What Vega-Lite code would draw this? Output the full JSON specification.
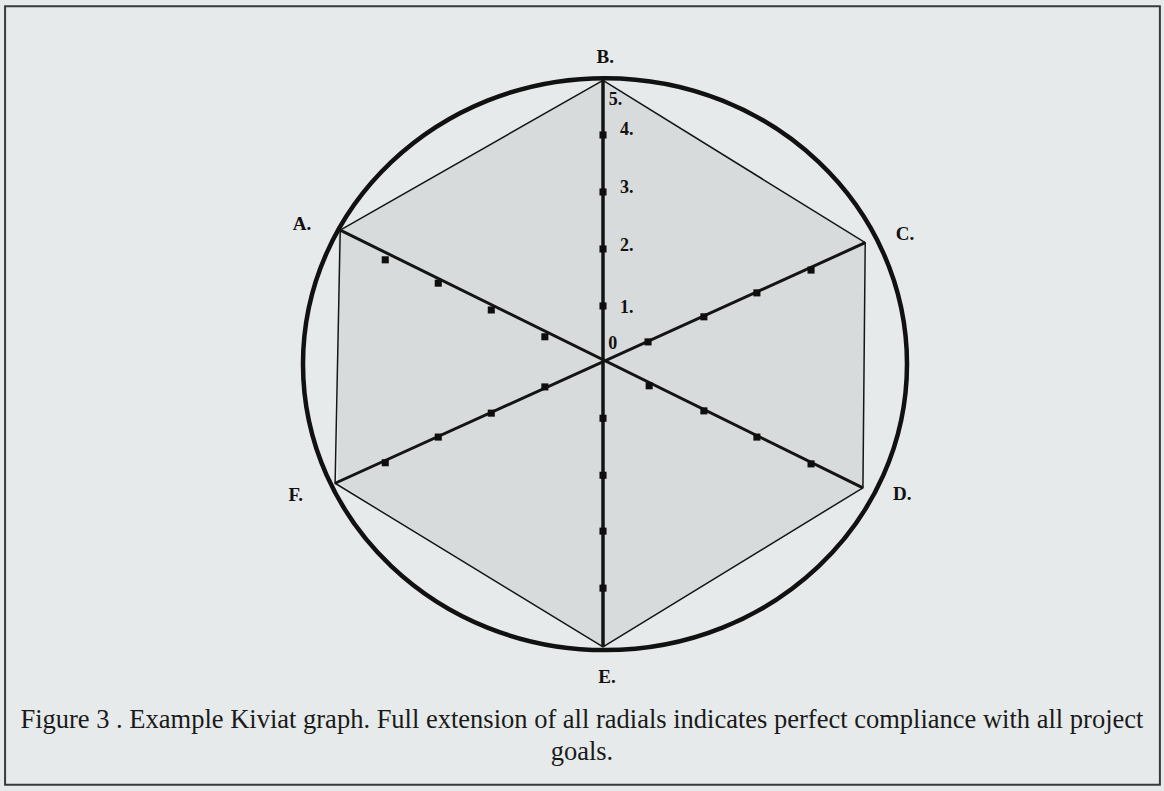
{
  "$schema": "https://vega.github.io/schema/vega-lite/v6.json",
  "width": 1164,
  "height": 791,
  "autosize": {"type": "none"},
  "padding": 0,
  "background": "#e7eaea",
  "config": {"view": {"stroke": null}},
  "datasets": {
    "frame": [{"x": -10.49, "x2": 9.77, "y": 6.26, "y2": -7.4}],
    "hexFill": [
      {"x": -4.65, "top": 2.33, "bottom": -2.11},
      {"x": 0, "top": 4.96, "bottom": -4.98},
      {"x": 4.58, "top": 2.11, "bottom": -2.19}
    ],
    "hexEdge": [
      {"axis": "A", "i": 0, "x": -4.61, "y": 2.33},
      {"axis": "B", "i": 1, "x": 0, "y": 4.96},
      {"axis": "C", "i": 2, "x": 4.6, "y": 2.11},
      {"axis": "D", "i": 3, "x": 4.56, "y": -2.19},
      {"axis": "E", "i": 4, "x": 0, "y": -4.98},
      {"axis": "F", "i": 5, "x": -4.7, "y": -2.11},
      {"axis": "A", "i": 6, "x": -4.61, "y": 2.33}
    ],
    "spokeVertical": [{"x": 0, "y": 4.96, "x2": 0, "y2": -4.98}],
    "spokeSlant": [
      {"name": "A-D", "x": -4.61, "y": 2.33, "x2": 4.56, "y2": -2.19},
      {"name": "C-F", "x": 4.6, "y": 2.11, "x2": -4.7, "y2": -2.11}
    ],
    "ticks": [
      {"axis": "B", "v": 1, "x": 0, "y": 1.0},
      {"axis": "B", "v": 2, "x": 0, "y": 2.0},
      {"axis": "B", "v": 3, "x": 0, "y": 3.0},
      {"axis": "B", "v": 4, "x": 0, "y": 4.0},
      {"axis": "E", "v": 1, "x": 0, "y": -0.97},
      {"axis": "E", "v": 2, "x": 0, "y": -1.97},
      {"axis": "E", "v": 3, "x": 0, "y": -2.95},
      {"axis": "E", "v": 4, "x": 0, "y": -3.95},
      {"axis": "A", "v": 1, "x": -1.02, "y": 0.46},
      {"axis": "A", "v": 2, "x": -1.96, "y": 0.93},
      {"axis": "A", "v": 3, "x": -2.89, "y": 1.4},
      {"axis": "A", "v": 4, "x": -3.82, "y": 1.81},
      {"axis": "D", "v": 1, "x": 0.81, "y": -0.4},
      {"axis": "D", "v": 2, "x": 1.77, "y": -0.84},
      {"axis": "D", "v": 3, "x": 2.7, "y": -1.3},
      {"axis": "D", "v": 4, "x": 3.65, "y": -1.77},
      {"axis": "C", "v": 1, "x": 0.79, "y": 0.37},
      {"axis": "C", "v": 2, "x": 1.77, "y": 0.81},
      {"axis": "C", "v": 3, "x": 2.7, "y": 1.23},
      {"axis": "C", "v": 4, "x": 3.65, "y": 1.63},
      {"axis": "F", "v": 1, "x": -1.02, "y": -0.42},
      {"axis": "F", "v": 2, "x": -1.96, "y": -0.88},
      {"axis": "F", "v": 3, "x": -2.89, "y": -1.3},
      {"axis": "F", "v": 4, "x": -3.82, "y": -1.75}
    ],
    "letters": [
      {"label": "A.", "x": -5.28, "y": 2.44},
      {"label": "B.", "x": 0.04, "y": 5.37},
      {"label": "C.", "x": 5.3, "y": 2.26},
      {"label": "D.", "x": 5.25, "y": -2.3},
      {"label": "E.", "x": 0.07, "y": -5.51},
      {"label": "F.", "x": -5.39, "y": -2.32}
    ],
    "numbers": [
      {"label": "5.", "x": 0.1, "y": 4.61},
      {"label": "4.", "x": 0.3, "y": 4.09},
      {"label": "3.", "x": 0.3, "y": 3.07},
      {"label": "2.", "x": 0.3, "y": 2.05},
      {"label": "1.", "x": 0.3, "y": 0.96},
      {"label": "0", "x": 0.09, "y": 0.33}
    ],
    "caption": [
      {"line": "Figure 3 .  Example Kiviat graph. Full extension of all radials indicates perfect compliance with all project", "x": -0.37, "y": -6.26},
      {"line": "goals.", "x": -0.37, "y": -6.82}
    ]
  },
  "layer": [
    {
      "data": {"name": "frame"},
      "mark": {"type": "rect", "fill": null, "stroke": "#3a3a3a", "strokeWidth": 2},
      "encoding": {
        "x": {"field": "x", "type": "quantitative", "scale": {"domain": [-10.579, 9.842], "nice": false, "zero": false}, "axis": null},
        "x2": {"field": "x2"},
        "y": {"field": "y", "type": "quantitative", "scale": {"domain": [-7.509, 6.368], "nice": false, "zero": false}, "axis": null},
        "y2": {"field": "y2"}
      }
    },
    {
      "data": {"name": "hexFill"},
      "mark": {"type": "area", "color": "#d8dbdb", "interpolate": "linear"},
      "encoding": {
        "x": {"field": "x", "type": "quantitative"},
        "y": {"field": "top", "type": "quantitative"},
        "y2": {"field": "bottom"}
      }
    },
    {
      "data": {"name": "hexEdge"},
      "mark": {"type": "line", "color": "#161616", "strokeWidth": 1.5},
      "encoding": {
        "x": {"field": "x", "type": "quantitative"},
        "y": {"field": "y", "type": "quantitative"},
        "order": {"field": "i", "type": "quantitative"}
      }
    },
    {
      "data": {"name": "spokeSlant"},
      "mark": {"type": "rule", "color": "#141414", "strokeWidth": 3},
      "encoding": {
        "x": {"field": "x", "type": "quantitative"},
        "y": {"field": "y", "type": "quantitative"},
        "x2": {"field": "x2"},
        "y2": {"field": "y2"}
      }
    },
    {
      "data": {"name": "spokeVertical"},
      "mark": {"type": "rule", "color": "#141414", "strokeWidth": 3.5},
      "encoding": {
        "x": {"field": "x", "type": "quantitative"},
        "y": {"field": "y", "type": "quantitative"},
        "x2": {"field": "x2"},
        "y2": {"field": "y2"}
      }
    },
    {
      "data": {"values": [{"ring": "outer"}]},
      "mark": {
        "type": "point",
        "shape": "M-1,0A1,0.947 0 1,1 1,0A1,0.947 0 1,1 -1,0Z",
        "size": 364816,
        "filled": false,
        "stroke": "#111111",
        "strokeWidth": 4.5,
        "opacity": 1
      },
      "encoding": {
        "x": {"datum": 0.035, "type": "quantitative"},
        "y": {"datum": -0.02, "type": "quantitative"}
      }
    },
    {
      "data": {"name": "ticks"},
      "mark": {"type": "point", "shape": "square", "filled": true, "size": 50, "color": "#0e0e0e", "opacity": 1},
      "encoding": {
        "x": {"field": "x", "type": "quantitative"},
        "y": {"field": "y", "type": "quantitative"}
      }
    },
    {
      "data": {"name": "letters"},
      "mark": {"type": "text", "font": "Liberation Serif", "fontWeight": "bold", "fontSize": 19, "color": "#111111", "align": "center", "baseline": "middle"},
      "encoding": {
        "x": {"field": "x", "type": "quantitative"},
        "y": {"field": "y", "type": "quantitative"},
        "text": {"field": "label"}
      }
    },
    {
      "data": {"name": "numbers"},
      "mark": {"type": "text", "font": "Liberation Serif", "fontWeight": "bold", "fontSize": 18, "color": "#111111", "align": "left", "baseline": "middle"},
      "encoding": {
        "x": {"field": "x", "type": "quantitative"},
        "y": {"field": "y", "type": "quantitative"},
        "text": {"field": "label"}
      }
    },
    {
      "data": {"name": "caption"},
      "mark": {"type": "text", "font": "Liberation Serif", "fontSize": 26.5, "color": "#1a1a1a", "align": "center", "baseline": "middle"},
      "encoding": {
        "x": {"field": "x", "type": "quantitative"},
        "y": {"field": "y", "type": "quantitative"},
        "text": {"field": "line"}
      }
    }
  ]
}
